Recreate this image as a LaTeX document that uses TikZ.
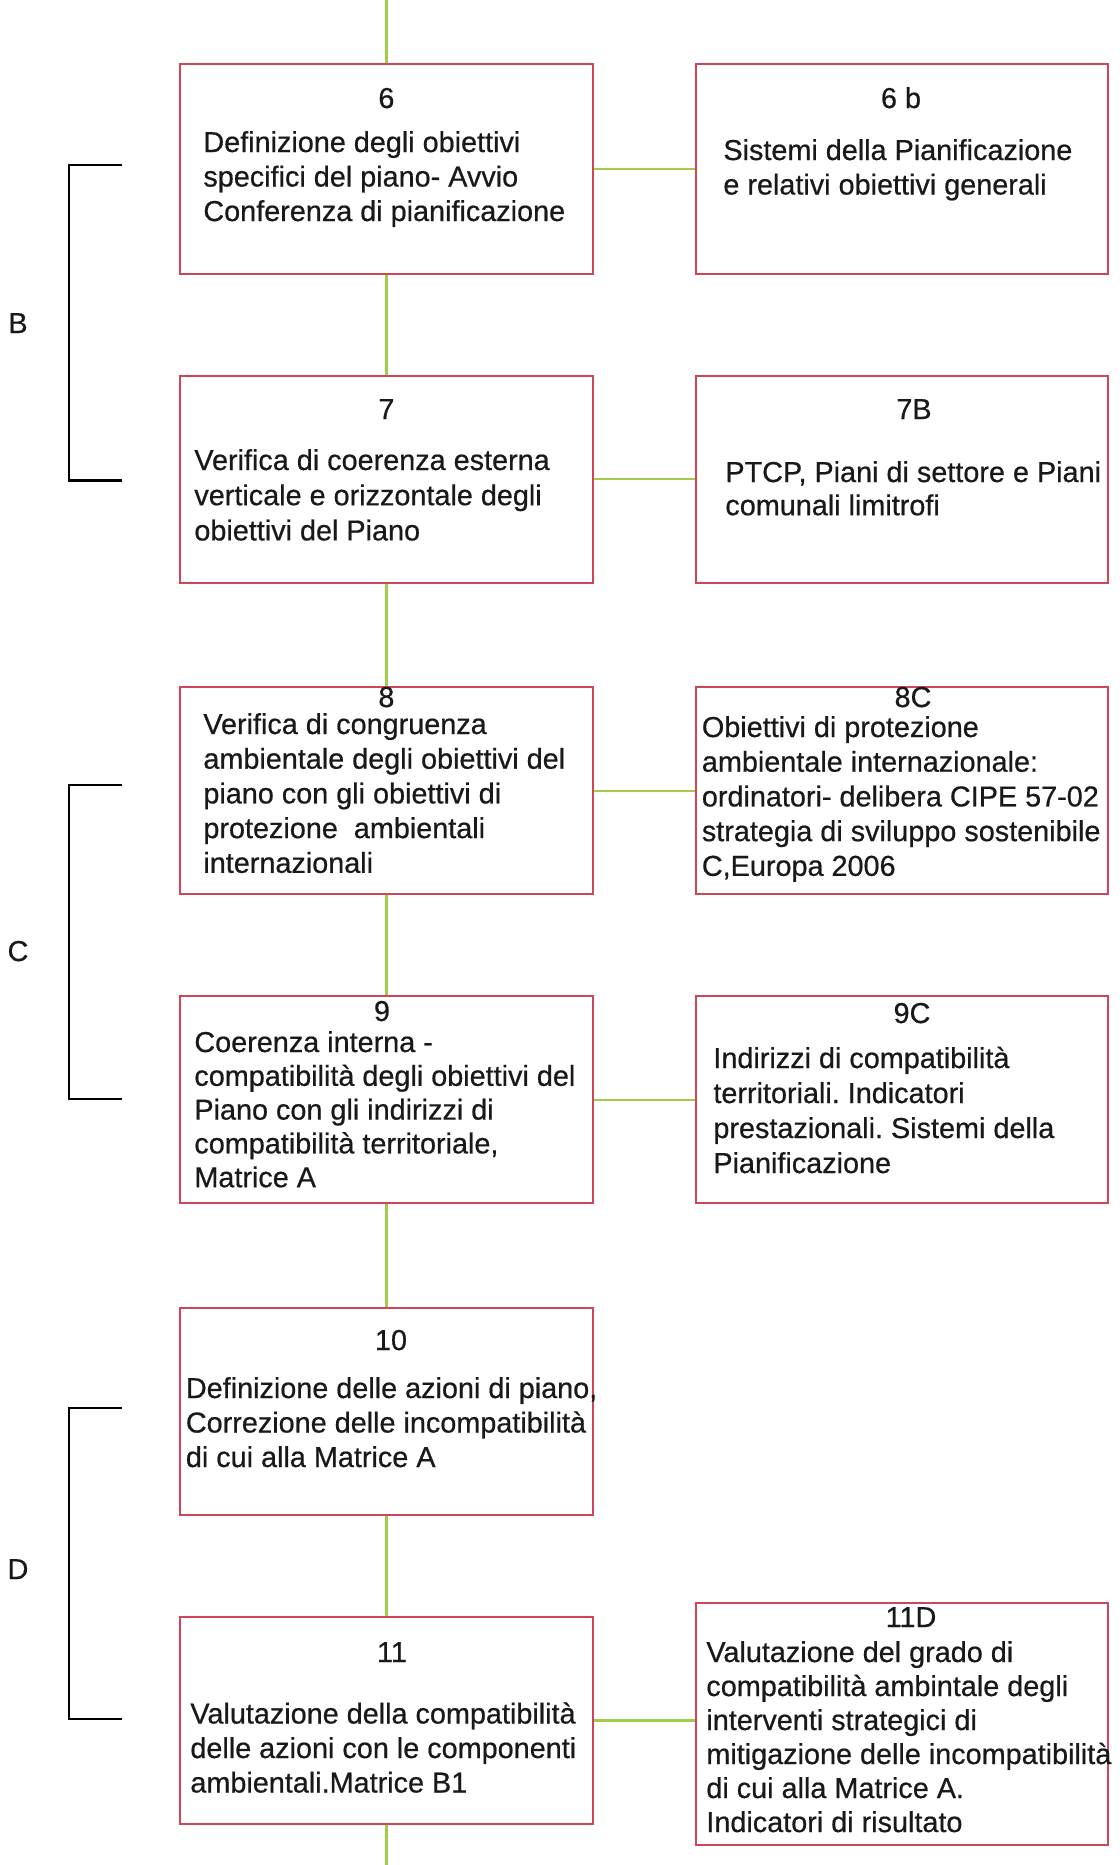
\documentclass[tikz,border=0pt]{standalone}
\usepackage{fontspec}
\setmainfont[FakeBold=0.6]{Liberation Sans}
\frenchspacing
\usetikzlibrary{fit}
\definecolor{boxred}{RGB}{206,70,88}
\definecolor{linkgreen}{RGB}{160,205,70}
\definecolor{inktext}{RGB}{25,25,25}
\tikzset{
  box/.style={draw=boxred, line width=1pt, inner sep=0pt, fill=none},
  link/.style={draw=linkgreen, line width=1.1pt},
  brace/.style={draw=black, line width=1.1pt},
  num/.style={anchor=base, inner sep=0pt, text=inktext, font=\fontsize{14.4}{17.25}\selectfont},
  para/.style={anchor=base west, inner sep=0pt, text=inktext},
  lab/.style={anchor=base, inner sep=0pt, text=inktext, font=\fontsize{14.4}{17.25}\selectfont}
}
\newcommand{\ptext}[2]{\parbox[t]{230pt}{\fontsize{14.4}{#1}\selectfont\frenchspacing\raggedright #2}}
\begin{document}
\begin{tikzpicture}[x=0.5pt,y=-0.5pt]
\useasboundingbox (0,0) rectangle (1120,1865);
% boxes
\node[box, fit={(179.5,64.2) (593.3,273.5)}] (b6) {};
\node[box, fit={(695.6,64.2) (1108,273.5)}] (b6b) {};
\node[box, fit={(179.5,375.7) (593.3,582.6)}] (b7) {};
\node[box, fit={(695.6,375.7) (1108,582.6)}] (b7B) {};
\node[box, fit={(179.5,687.2) (593.3,894.1)}] (b8) {};
\node[box, fit={(695.6,687.2) (1108,894.1)}] (b8C) {};
\node[box, fit={(179.5,996.4) (593.3,1203.3)}] (b9) {};
\node[box, fit={(695.6,996.4) (1108,1203.3)}] (b9C) {};
\node[box, fit={(179.5,1307.9) (593.3,1514.8)}] (b10) {};
\node[box, fit={(179.5,1617) (593.3,1824)}] (b11) {};
\node[box, fit={(695.6,1602.8) (1108,1845.3)}] (b11D) {};
% free ends
\coordinate (top) at (386.4,0);
\coordinate (bottom) at (386.4,1865);
% vertical connectors
\draw[link] (top) -- (b6.north);
\draw[link] (b6.south) -- (b7.north);
\draw[link] (b7.south) -- (b8.north);
\draw[link] (b8.south) -- (b9.north);
\draw[link] (b9.south) -- (b10.north);
\draw[link] (b10.south) -- (b11.north);
\draw[link] (b11.south) -- (bottom);
% horizontal connectors
\draw[link] (b6.east) -- (b6.east -| b6b.west);
\draw[link] (b7.east) -- (b7.east -| b7B.west);
\draw[link] (b8.east) -- (b8.east -| b8C.west);
\draw[link] (b9.east) -- (b9.east -| b9C.west);
\draw[link] (b11.east) -- (b11.east -| b11D.west);
% brackets
\coordinate (Bt) at (122,165.3); \coordinate (Bb) at (122,480.4);
\coordinate (Ct) at (122,784.7); \coordinate (Cb) at (122,1098.6);
\coordinate (Dt) at (122,1407.8); \coordinate (Db) at (122,1719.3);
\draw[brace] (Bt) -- ++(-53,0) |- (Bb);
\draw[brace] (Ct) -- ++(-53,0) |- (Cb);
\draw[brace] (Dt) -- ++(-53,0) |- (Db);
\node[lab] (lB) at (18,333) {B};
\node[lab] (lC) at (18,961) {C};
\node[lab] (lD) at (18,1579) {D};
% numbers
\node[num] (n6) at (386.4,108) {6};
\node[num] (n6b) at (901,108) {6 b};
\node[num] (n7) at (386.4,419) {7};
\node[num] (n7B) at (914,419) {7B};
\node[num] (n8) at (386.4,707) {8};
\node[num] (n8C) at (913,707) {8C};
\node[num] (n9) at (382,1021) {9};
\node[num] (n9C) at (912,1023) {9C};
\node[num] (n10) at (391,1350) {10};
\node[num] (n11) at (392,1662) {11};
\node[num] (n11D) at (911,1627) {11D};
% texts
\node[para] (t6) at (203,152) {\ptext{17.25pt}{Definizione degli obiettivi\\specifici del piano- Avvio\\Conferenza di pianificazione}};
\node[para] (t6b) at (723,160) {\ptext{17.25pt}{Sistemi della Pianificazione\\e relativi obiettivi generali}};
\node[para] (t7) at (194,470) {\ptext{17.6pt}{Verifica di coerenza esterna\\verticale e orizzontale degli\\obiettivi del Piano}};
\node[para] (t7B) at (725,482) {\ptext{16.6pt}{PTCP, Piani di settore e Piani\\comunali limitrofi}};
\node[para] (t8) at (203,734) {\ptext{17.35pt}{Verifica di congruenza\\ambientale degli obiettivi del\\piano con gli obiettivi di\\protezione\ \ ambientali\\internazionali}};
\node[para] (t8C) at (701.5,737) {\ptext{17.35pt}{Obiettivi di protezione\\ambientale internazionale:\\ordinatori- delibera CIPE 57-02\\strategia di sviluppo sostenibile\\C,Europa 2006}};
\node[para] (t9) at (194,1052) {\ptext{16.9pt}{Coerenza interna -\\compatibilità degli obiettivi del\\Piano con gli indirizzi di\\compatibilità territoriale,\\Matrice A}};
\node[para] (t9C) at (713,1068) {\ptext{17.5pt}{Indirizzi di compatibilità\\territoriali. Indicatori\\prestazionali. Sistemi della\\Pianificazione}};
\node[para] (t10) at (185.5,1398) {\ptext{17.25pt}{Definizione delle azioni di piano,\\Correzione delle incompatibilità\\di cui alla Matrice A}};
\node[para] (t11) at (190,1723.5) {\ptext{17.25pt}{Valutazione della compatibilità\\delle azioni con le componenti\\ambientali.Matrice B1}};
\node[para] (t11D) at (706,1662) {\ptext{17pt}{Valutazione del grado di\\compatibilità ambintale degli\\interventi strategici di\\mitigazione delle incompatibilità\\di cui alla Matrice A.\\Indicatori di risultato}};
\end{tikzpicture}
\end{document}
